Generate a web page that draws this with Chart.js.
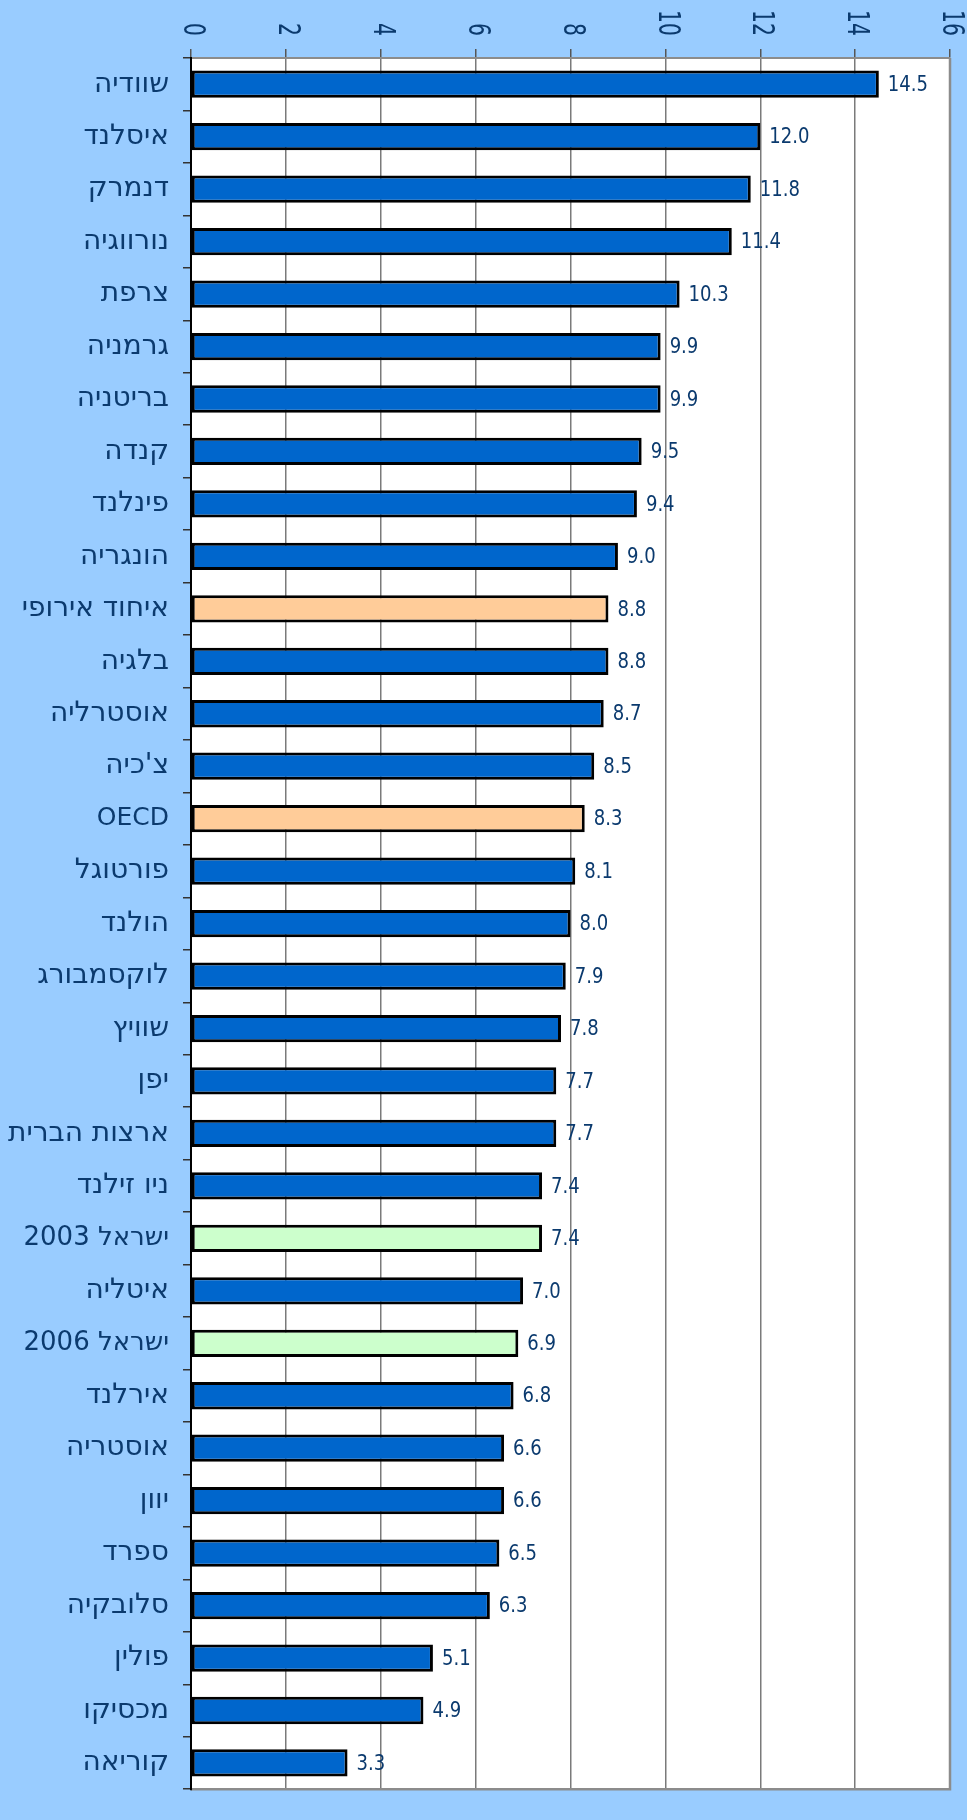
<!DOCTYPE html>
<html>
<head>
<meta charset="utf-8">
<script src="https://cdn.jsdelivr.net/npm/chart.js@4"></script>
<style>
  html, body { margin: 0; padding: 0; background: #99CCFF; }
  canvas { display: block; }
</style>
</head>
<body>
<canvas id="chart" width="967" height="1820"></canvas>
<script>
const countries = [
    'שוודיה', 'איסלנד', 'דנמרק', 'נורווגיה', 'צרפת', 'גרמניה', 'בריטניה', 'קנדה',
    'פינלנד', 'הונגריה', 'איחוד אירופי', 'בלגיה', 'אוסטרליה', "צ'כיה", 'OECD',
    'פורטוגל', 'הולנד', 'לוקסמבורג', 'שוויץ', 'יפן', 'ארצות הברית', 'ניו זילנד',
    'ישראל 2003', 'איטליה', 'ישראל 2006', 'אירלנד', 'אוסטריה', 'יוון', 'ספרד',
    'סלובקיה', 'פולין', 'מכסיקו', 'קוריאה'
];
const values = [
    14.5, 12.0, 11.8, 11.4, 10.3, 9.9, 9.9, 9.5,
    9.4, 9.0, 8.8, 8.8, 8.7, 8.5, 8.3,
    8.1, 8.0, 7.9, 7.8, 7.7, 7.7, 7.4,
    7.4, 7.0, 6.9, 6.8, 6.6, 6.6, 6.5,
    6.3, 5.1, 4.9, 3.3
];
const aggregates = ['איחוד אירופי', 'OECD'];
const israel = ['ישראל 2003', 'ישראל 2006'];
const xTicks = [0, 2, 4, 6, 8, 10, 12, 14, 16];

const TEXT = '#0B3A6E';
const barColors = countries.map(c => {
    if (aggregates.includes(c)) return '#FFCC99';
    if (israel.includes(c)) return '#CCFFCC';
    return '#0066CC';
});

// Hebrew glyphs in DejaVu run small next to the Latin ones, so size per label
function labelSize(label) {
    const hasLatin = /[A-Za-z0-9]/.test(label);
    const hasHebrew = /[\u0590-\u05FF]/.test(label);
    if (hasLatin && hasHebrew) return 26;
    if (hasLatin) return 25;
    return 28;
}

// white plot area, frame on right/bottom
const plotBg = {
    id: 'plotBg',
    beforeDraw(chart) {
        const { ctx, chartArea: a } = chart;
        ctx.save();
        ctx.fillStyle = '#FFFFFF';
        ctx.fillRect(a.left, a.top, a.right - a.left, a.bottom - a.top);
        ctx.restore();
    },
    afterDraw(chart) {
        const { ctx, chartArea: a } = chart;
        ctx.save();
        ctx.strokeStyle = '#8C8C8C';
        ctx.lineWidth = 2.5;
        ctx.beginPath();
        ctx.moveTo(a.right, a.top);
        ctx.lineTo(a.right, a.bottom);
        ctx.lineTo(a.left, a.bottom);
        ctx.stroke();
        ctx.strokeStyle = '#000';
        ctx.lineWidth = 2;
        ctx.beginPath();
        ctx.moveTo(a.left, a.top);
        ctx.lineTo(a.left, a.bottom + 1);
        ctx.stroke();
        ctx.restore();
    }
};

// rotated top tick labels (read top to bottom)
const topTicks = {
    id: 'topTicks',
    afterDraw(chart) {
        const { ctx } = chart;
        const x = chart.scales.x;
        ctx.save();
        ctx.fillStyle = TEXT;
        ctx.font = '30px "DejaVu Sans"';
        ctx.textAlign = 'right';
        ctx.textBaseline = 'middle';
        xTicks.forEach(v => {
            const px = x.getPixelForValue(v);
            ctx.save();
            ctx.translate(px + 1, 36);
            ctx.rotate(Math.PI / 2);
            ctx.scale(0.68, 1);
            ctx.fillText(String(v), 0, 0);
            ctx.restore();
        });
        ctx.restore();
    }
};

// value labels at bar ends
const valueLabels = {
    id: 'valueLabels',
    afterDatasetsDraw(chart) {
        const { ctx } = chart;
        const meta = chart.getDatasetMeta(0);
        ctx.save();
        ctx.fillStyle = TEXT;
        ctx.font = '22px "DejaVu Sans"';
        ctx.textAlign = 'left';
        ctx.textBaseline = 'middle';
        meta.data.forEach((bar, i) => {
            ctx.save();
            ctx.translate(bar.x + 9, bar.y + 1);
            ctx.scale(0.82, 1);
            ctx.fillText(values[i].toFixed(1), 0, 0);
            ctx.restore();
        });
        ctx.restore();
    }
};

new Chart(document.getElementById('chart'), {
    type: 'bar',
    data: {
        labels: countries,
        datasets: [{
            data: values,
            backgroundColor: barColors,
            borderColor: '#000000',
            borderWidth: 3,
            borderSkipped: false,
            categoryPercentage: 1,
            barPercentage: 0.52
        }]
    },
    options: {
        indexAxis: 'y',
        responsive: false,
        animation: false,
        layout: { padding: { left: 0, top: 0, right: 17, bottom: 6 } },
        plugins: {
            legend: { display: false },
            tooltip: { enabled: false }
        },
        scales: {
            x: {
                position: 'top',
                min: 0,
                max: 16,
                ticks: { stepSize: 2, display: false },
                grid: {
                    color: '#7A7A7A',
                    lineWidth: 1.5,
                    tickLength: 9,
                    tickColor: '#555555',
                    drawTicks: true
                },
                border: { color: '#8C8C8C', width: 2 },
                afterFit(scale) { scale.height = 58; }
            },
            y: {
                ticks: {
                    color: TEXT,
                    font: (c) => ({ family: '"DejaVu Sans"', size: labelSize(c.tick ? c.tick.label : '') }),
                    padding: 14,
                    autoSkip: false
                },
                grid: {
                    drawOnChartArea: false,
                    drawTicks: true,
                    tickLength: 8,
                    offset: true,
                    color: '#333333',
                    lineWidth: 1.5
                },
                border: { color: '#000000', width: 2 },
                afterFit(scale) { scale.width = 191; }
            }
        }
    },
    plugins: [plotBg, topTicks, valueLabels]
});
</script>
</body>
</html>
